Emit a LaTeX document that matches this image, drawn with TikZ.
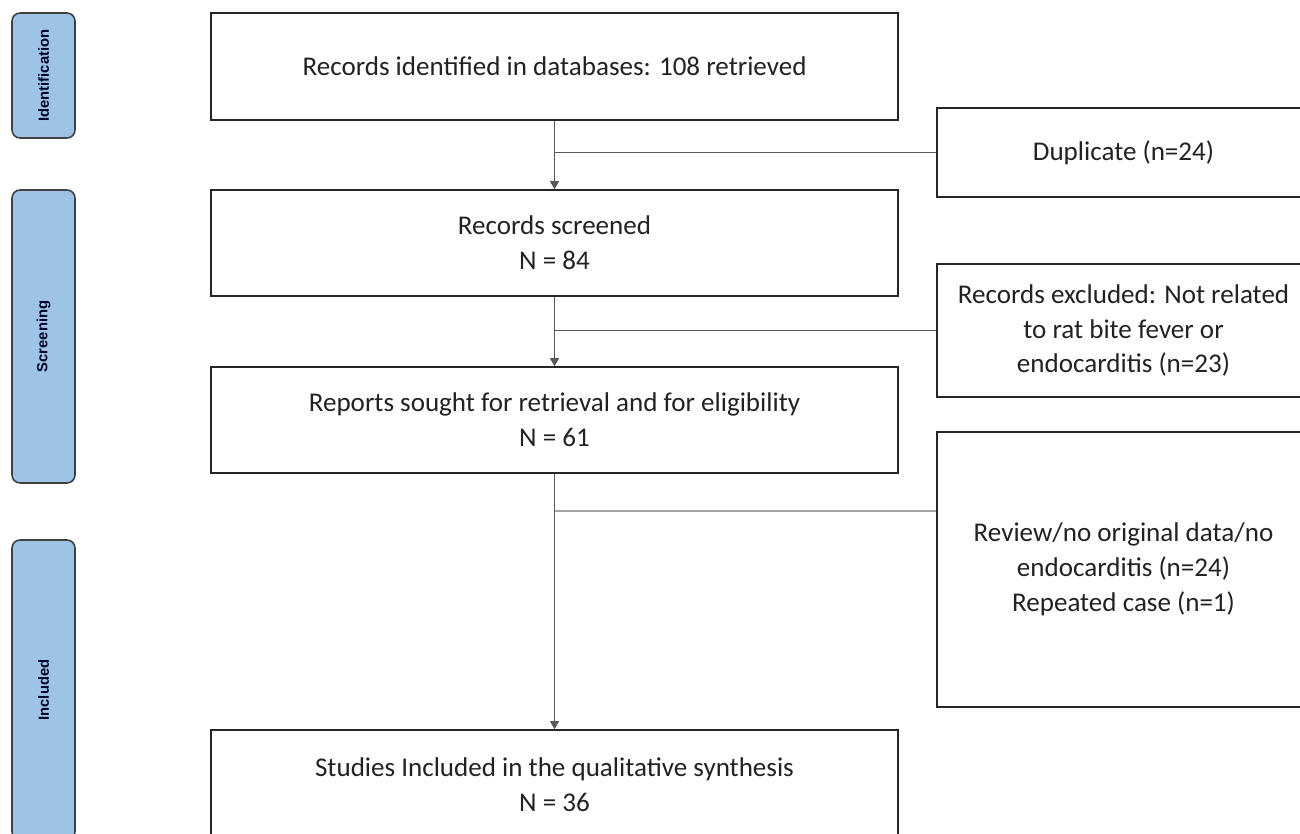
\documentclass[tikz,border=0pt]{standalone}
\usepackage{fontspec}
\setmainfont{Carlito}
\newfontfamily\barfont{Liberation Sans}
\usetikzlibrary{arrows.meta}
\definecolor{barblue}{HTML}{9DC3E6}
\definecolor{bardraw}{HTML}{3F3F3F}
\definecolor{txt}{HTML}{222222}
\begin{document}
\begin{tikzpicture}[x=0.02cm, y=-0.02cm,
  box/.style={draw=black!85, line width=0.9pt, fill=white, align=center, text=txt,
    font=\fontsize{15.4}{19.9}\selectfont, inner sep=0pt},
  mainbox/.style={box, minimum width=13.74cm, minimum height=2.14cm},
  sidebox/.style={box, minimum width=7.46cm},
  bar/.style={draw=bardraw, line width=0.9pt, fill=barblue, rounded corners=0.16cm,
    minimum width=1.26cm, inner sep=0pt, text=black!85!blue,
    font=\barfont\bfseries\fontsize{8.4}{10}\selectfont},
  link/.style={line width=0.6pt, draw=black!65},
  arr/.style={link, -{Triangle[length=0.16cm, width=0.18cm]}}]

\useasboundingbox (0,0) rectangle (1300,834);
\clip (0,0) rectangle (1300,834);

\node[bar, minimum height=2.5cm] (ident) at (43.5,75.5) {\rotatebox{90}{Identification}};
\node[bar, minimum height=5.86cm] (screen) at (43.5,336.5) {\rotatebox{90}{Screening}};
\node[bar, minimum height=6cm] (incl) at (43.5,690) {\rotatebox{90}{Included}};

\node[mainbox] (found) at (554.5,66.5) {Records identified in databases: 108 retrieved};
\node[mainbox, minimum height=2.12cm] (screened) at (554.5,243) {Records screened\\N = 84};
\node[mainbox, minimum height=2.12cm] (sought) at (554.5,420) {Reports sought for retrieval and for eligibility\\N = 61};
\node[mainbox, minimum height=2.2cm] (studies) at (554.5,785) {Studies Included in the qualitative synthesis\\N = 36};

\node[sidebox, minimum height=1.78cm] (dup) at (1123.5,152.5) {Duplicate (n=24)};
\node[sidebox, minimum height=2.66cm] (excl) at (1123.5,330.5) {Records excluded: Not related\\to rat bite fever or\\endocarditis (n=23)};
\node[sidebox, minimum height=5.5cm] (review) at (1123.5,569.5) {Review/no original data/no\\endocarditis (n=24)\\Repeated case (n=1)};

\draw[arr] (found) -- (screened);
\draw[arr] (screened) -- (sought);
\draw[arr] (sought) -- (studies);

\draw[link] (found.south |- dup.west) -- (dup.west);
\draw[link] (screened.south |- excl.west) -- (excl.west);
\coordinate (split) at (554.5,511);
\draw[link, draw=black!35] (split) -- (split -| review.west);

\end{tikzpicture}
\end{document}
